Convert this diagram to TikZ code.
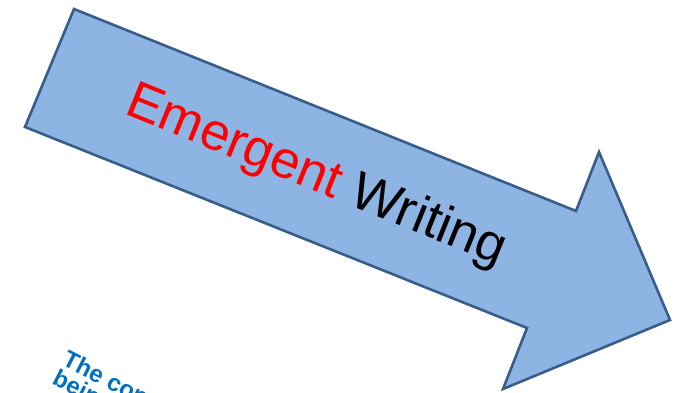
\documentclass[tikz,border=0pt]{standalone}
\usepackage{fontspec}
\setmainfont{Liberation Sans}
\definecolor{arrowfill}{RGB}{142,180,227}
\definecolor{arrowline}{RGB}{56,93,138}
\definecolor{noteblue}{RGB}{0,112,192}
\begin{document}
\begin{tikzpicture}[x=1pt,y=-1pt,
  arrowshape/.style={fill=arrowfill,draw=arrowline,line width=2.6pt,line join=miter},
  titletext/.style={font=\fontsize{52.5}{60}\selectfont,rotate=-22,inner sep=0pt},
  notetext/.style={font=\bfseries\fontsize{24}{21}\selectfont,text=noteblue,rotate=-27,align=left,anchor=north west,inner sep=0pt}]
\useasboundingbox (0,0) rectangle (680,393);
\clip (0,0) rectangle (680,393);
\coordinate (A) at (74,9);
\coordinate (B) at (25,127);
\coordinate (C) at (527,328);
\coordinate (D) at (503,389);
\coordinate (E) at (670,320);
\coordinate (F) at (599,152);
\coordinate (G) at (576,211);
\draw[arrowshape] (A) -- (G) -- (F) -- (E) -- (D) -- (C) -- (B) -- cycle;
\node[titletext] (title) at (316,177) {\textcolor{red}{Emergent} Writing};
\node[notetext] (note) at (69,349) {The context\\being};
\end{tikzpicture}
\end{document}
